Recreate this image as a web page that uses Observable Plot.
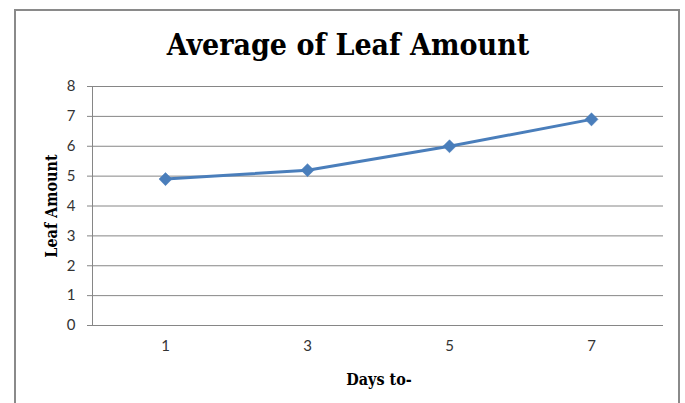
<!DOCTYPE html>
<html>
<head>
<meta charset="utf-8">
<script src="https://cdn.jsdelivr.net/npm/d3@7"></script>
<script src="https://cdn.jsdelivr.net/npm/@observablehq/plot@0.6"></script>
<style>
  html, body { margin: 0; padding: 0; background: #fff; overflow: hidden; }
  #wrap { position: relative; width: 685px; height: 403px; }
  #border { position: absolute; left: 14px; top: 9px; width: 666px; height: 420px; border: 2px solid #8a8a8a; box-sizing: border-box; }
  #chart { position: absolute; left: 0; top: 0; }
</style>
</head>
<body>
<div id="wrap"><div id="border"></div><div id="chart"></div></div>
<script>
const days = ["1", "3", "5", "7"];
const leafAmount = [4.9, 5.2, 6.0, 6.9];
const yTicks = [0, 1, 2, 3, 4, 5, 6, 7, 8];
const titleText = "Average of Leaf Amount";
const xLabel = "Days to-";
const yLabel = "Leaf Amount";

const data = days.map((d, i) => ({day: d, value: leafAmount[i]}));
const blue = "#4a7ebb";
const serif = "'DejaVu Serif Condensed', 'Liberation Serif', serif";

const plot = Plot.plot({
  width: 685,
  height: 403,
  marginLeft: 92,
  marginRight: 22,
  marginTop: 86,
  marginBottom: 78,
  style: {fontFamily: "Lato, 'Open Sans', sans-serif", fontSize: "15px", color: "#222", background: "transparent"},
  x: {type: "point", domain: days, padding: 0.5, label: null},
  y: {domain: [0, 8], label: null},
  marks: [
    Plot.gridY(yTicks, {stroke: "#868686", strokeOpacity: 1, strokeWidth: 1}),
    Plot.frame({anchor: "left", stroke: "#868686"}),
    Plot.axisY(yTicks, {tickSize: 5, tickPadding: 12, stroke: "#868686", fontSize: 15, fill: "#333"}),
    Plot.axisX({tickSize: 0, tickPadding: 15, fontSize: 15, fill: "#333"}),
    Plot.line(data, {x: "day", y: "value", stroke: blue, strokeWidth: 3}),
    Plot.dot(data, {x: "day", y: "value", symbol: "square", r: 5.2, rotate: 45, fill: blue, stroke: blue, strokeWidth: 0.5}),
    Plot.text([titleText], {frameAnchor: "top", lineAnchor: "middle", dy: -41, dx: -30, fontSize: 30, fontWeight: "bold", fontFamily: serif, fill: "#000", textAnchor: "middle"}),
    Plot.text([xLabel], {frameAnchor: "bottom", lineAnchor: "middle", dy: 54, dx: 1, fontSize: 16, fontWeight: "bold", fontFamily: serif, fill: "#000", textAnchor: "middle"}),
    Plot.text([yLabel], {frameAnchor: "left", lineAnchor: "middle", textAnchor: "middle", dx: -41, rotate: -90, fontSize: 16, fontWeight: "bold", fontFamily: serif, fill: "#000"})
  ]
});
document.getElementById("chart").appendChild(plot);
</script>
</body>
</html>
